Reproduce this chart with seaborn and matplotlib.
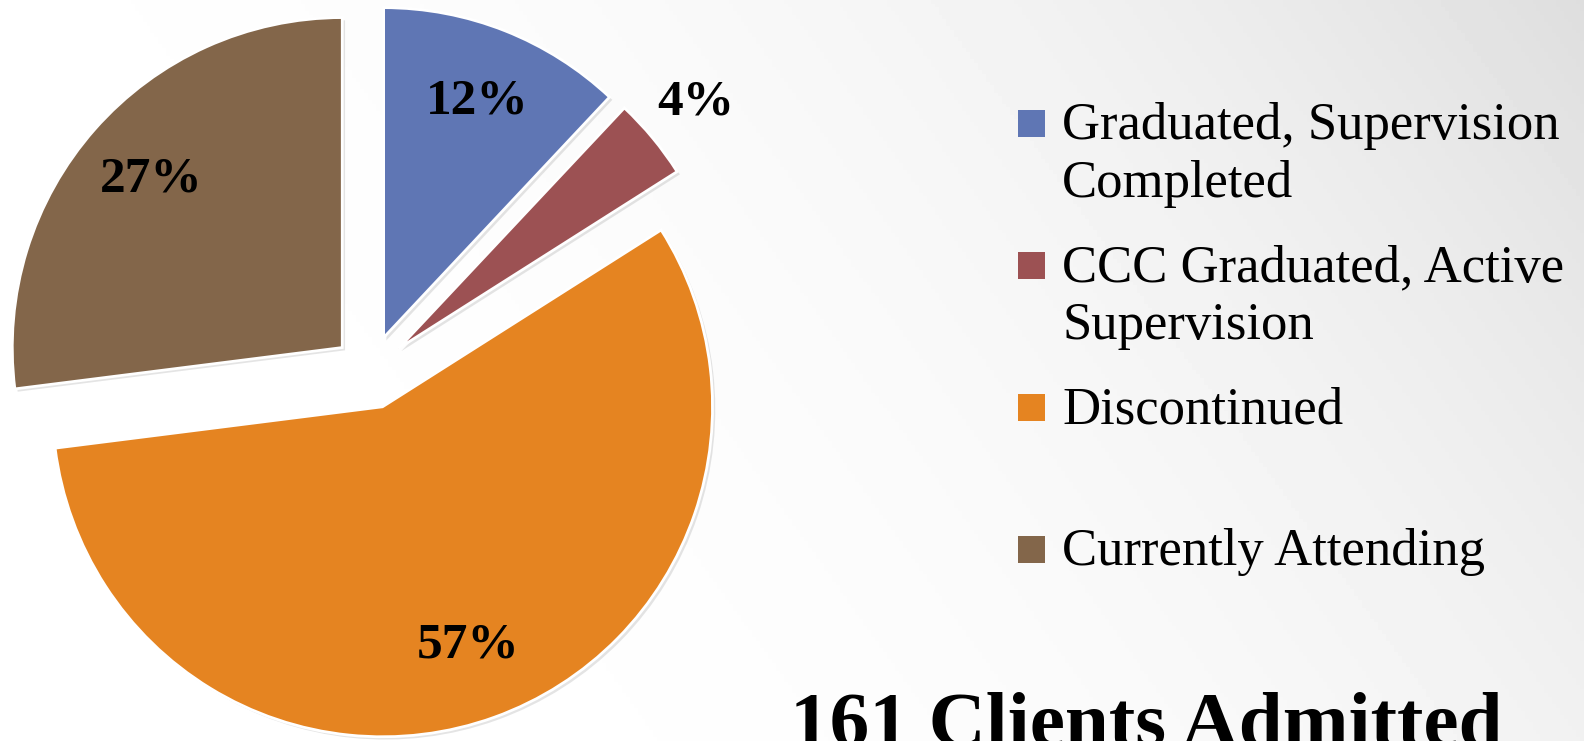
import numpy as np
import matplotlib
matplotlib.use("Agg")
import matplotlib.pyplot as plt
import seaborn as sns

# data
categories = ["Graduated, Supervision\nCompleted",
              "CCC Graduated, Active\nSupervision",
              "Discontinued",
              "Currently Attending"]
shares = [12, 4, 57, 27]
slice_colors = ["#5F76B4", "#9C5153", "#E58421", "#83664A"]
title_text = "161 Clients Admitted"

W, H = 1584, 741


def main():
    sns.set_theme(style="white")
    plt.rcParams["font.family"] = ["Liberation Serif", "DejaVu Serif"]
    palette = sns.color_palette(slice_colors)

    fig = plt.figure(figsize=(W / 100, H / 100), dpi=100)
    ax = fig.add_axes([0, 0, 1, 1])

    # soft gray background gradient
    xx, yy = np.meshgrid(np.linspace(0, 1, 400), np.linspace(0, 1, 200))
    t = xx * 0.75 + (1 - yy) * 0.25
    bg = 1 - 0.13 * t ** 3
    ax.imshow(bg, cmap="gray", vmin=0, vmax=1, extent=(0, W, 0, H),
              origin="upper", aspect="auto", zorder=0)

    center = (370, H - 372)
    radius = 330
    pct_d = 0.77
    # explode is in data units for pie, so scale by the radius
    wedges, texts, autotexts = ax.pie(
        shares, colors=palette, startangle=90, counterclock=False,
        explode=[0.112 * radius] * len(shares), center=center, radius=radius,
        autopct="%1.0f%%", pctdistance=pct_d,
        wedgeprops=dict(edgecolor="white", linewidth=2),
        shadow=dict(ox=2, oy=-2, facecolor="0.3", edgecolor="none", alpha=0.15),
        textprops=dict(fontsize=37, fontweight="bold", color="black"))

    # small slice label sits outside its wedge
    for w, at, s in zip(wedges, autotexts, shares):
        if s < 5:
            x, y = at.get_position()
            cx, cy = w.center
            k = 1.17 / pct_d
            at.set_position((cx + (x - cx) * k, cy + (y - cy) * k))

    # legend drawn by hand to keep uniform row spacing
    for i, (lab, col) in enumerate(zip(categories, palette)):
        top = 110 + 142 * i
        ax.add_patch(plt.Rectangle((1018, H - top - 27), 27, 27,
                                   facecolor=col, edgecolor="none", zorder=3))
        for j, line in enumerate(lab.split("\n")):
            ax.text(1062, H - (139 + 142 * i + 58 * j), line, fontsize=38,
                    va="baseline", ha="left", color="black", zorder=3)

    ax.text(790, -5, title_text, fontsize=57, fontweight="bold",
            va="baseline", ha="left", color="black", clip_on=False)

    ax.set_xlim(0, W)
    ax.set_ylim(0, H)
    ax.set_aspect("auto")
    ax.axis("off")
    fig.savefig("out.png", dpi=100)


if __name__ == "__main__":
    main()
